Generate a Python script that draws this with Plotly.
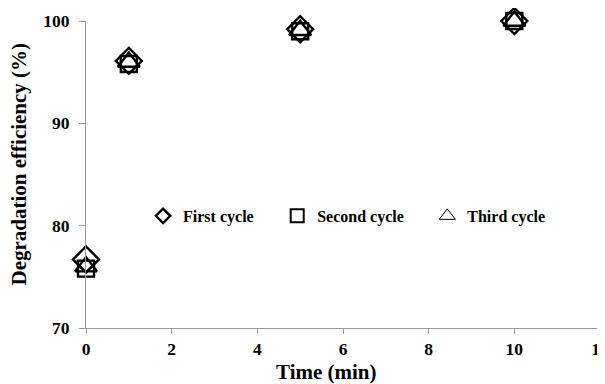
import plotly.graph_objects as go

time_min = [0, 1, 5, 10]
first_cycle = [76.7, 96.1, 99.2, 100.0]
second_cycle = [75.8, 95.8, 99.0, 100.0]
third_cycle = [76.0, 96.0, 99.1, 100.0]

series = [
    ("First cycle", first_cycle, "diamond-open", 20, 11, 2.4, "legend", 0.111),
    ("Second cycle", second_cycle, "square-open", 16, 13, 2.0, "legend2", 0.372),
    ("Third cycle", third_cycle, "triangle-up-open", 19, 14, 1.0, "legend3", 0.664),
]

font_family = "Liberation Serif"
fig = go.Figure()
for name, vals, sym, size, lsize, lw, lg, lx in series:
    fig.add_trace(go.Scatter(
        x=time_min, y=vals, mode="markers", name=name, showlegend=False,
        cliponaxis=False,
        marker=dict(symbol=sym, size=size, color="black", line=dict(width=2.4, color="black")),
    ))
legend_layout = {}
for name, vals, sym, size, lsize, lw, lg, lx in series:
    fig.add_trace(go.Scatter(
        x=[None], y=[None], mode="markers", name=name, showlegend=True, legend=lg,
        marker=dict(symbol=sym, size=lsize, color="black", line=dict(width=lw, color="black")),
    ))
    legend_layout[lg] = dict(
        orientation="h", x=lx, y=0.365, xanchor="left", yanchor="middle",
        font=dict(family=font_family, size=16, color="black", weight="bold"),
        bgcolor="rgba(0,0,0,0)", itemsizing="trace",
    )

tick_font = dict(family=font_family, size=17.5, color="black", weight="bold")
title_font = dict(family=font_family, size=21, color="black", weight="bold")

fig.update_layout(
    width=597, height=376,
    margin=dict(l=78, r=5, t=13, b=56),
    paper_bgcolor="white", plot_bgcolor="white",
    font=dict(family=font_family, color="black", size=13),
    showlegend=True,
    **legend_layout,
    xaxis=dict(
        range=[0, 12], dtick=2, tick0=0, showgrid=False, zeroline=False,
        showline=True, linecolor="#999999", linewidth=1, automargin=False,
        ticks="outside", ticklen=5, tickcolor="#999999", ticklabeloverflow="allow",
        tickfont=tick_font,
    ),
    yaxis=dict(
        range=[70, 100], dtick=10, tick0=70, showgrid=False, zeroline=False,
        showline=True, linecolor="#999999", linewidth=1, automargin=False,
        ticks="outside", ticklen=6, tickcolor="#999999", ticklabeloverflow="allow",
        ticklabelstandoff=6,
        tickfont=tick_font,
    ),
    annotations=[
        dict(text="Time (min)", xref="paper", yref="paper", x=0.467, y=0, yshift=-44,
             xanchor="center", yanchor="middle", showarrow=False, font=title_font),
        dict(text="Degradation efficiency (%)", xref="paper", yref="paper", x=0, xshift=-67,
             y=0.5326, xanchor="center", yanchor="middle", textangle=-90,
             showarrow=False, font=title_font),
    ],
)

fig.write_html("out.html")
